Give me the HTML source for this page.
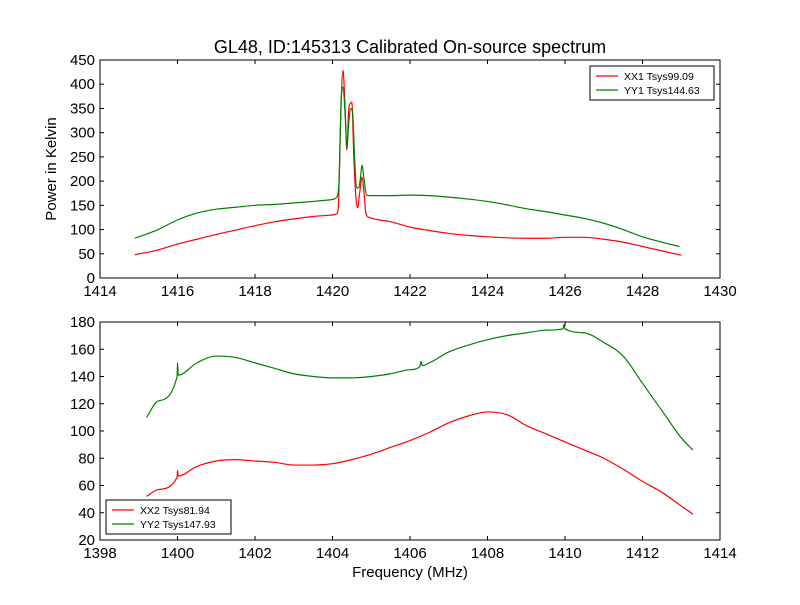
<!DOCTYPE html>
<html><head><meta charset="utf-8"><style>
body{margin:0;background:#fff}
svg{font-family:"Liberation Sans","DejaVu Sans",sans-serif}
</style></head><body>
<svg id="c" width="800" height="600"></svg>
<script>
const ns="http://www.w3.org/2000/svg";
// top panel data
const topXTicks=[1414,1416,1418,1420,1422,1424,1426,1428,1430];
const topYTicks=[0,50,100,150,200,250,300,350,400,450];
const xx1Freq=[1414.9,1415.5,1416,1416.5,1417,1417.5,1418,1418.5,1419,1419.5,1420,1420.1,1420.15,1420.2,1420.27,1420.33,1420.37,1420.42,1420.46,1420.5,1420.55,1420.6,1420.65,1420.7,1420.76,1420.82,1420.86,1420.95,1421.2,1421.5,1422,1422.5,1423,1423.5,1424,1424.5,1425,1425.5,1426,1426.5,1427,1427.5,1428,1428.5,1429];
const xx1Vals=[48,58,70,80,90,99,108,116,122,127,130,132,145,300,429,340,264,350,360,363,250,170,145,175,208,170,134,125,120,116,105,98,92,88,85,83,82,82,84,84,80,74,65,56,47];
const yy1Freq=[1414.9,1415.5,1416,1416.5,1417,1417.5,1418,1418.5,1419,1419.5,1420,1420.1,1420.17,1420.22,1420.27,1420.33,1420.37,1420.42,1420.47,1420.52,1420.57,1420.62,1420.67,1420.72,1420.76,1420.82,1420.88,1421,1421.5,1422,1422.5,1423,1423.5,1424,1424.5,1425,1425.5,1426,1426.5,1427,1427.5,1428,1428.5,1428.95];
const yy1Vals=[82,100,120,134,142,146,150,152,155,158,162,166,200,360,394,330,268,320,350,340,250,186,186,205,233,200,171,170,170,171,170,167,163,158,151,143,137,130,123,113,100,85,74,65];
// bottom panel data
const botXTicks=[1398,1400,1402,1404,1406,1408,1410,1412,1414];
const botYTicks=[20,40,60,80,100,120,140,160,180];
const xx2Freq=[1399.2,1399.5,1399.99,1400,1400.02,1400.5,1401,1401.5,1402,1402.5,1403,1403.5,1404,1404.5,1405,1405.5,1406,1406.5,1407,1407.5,1408,1408.5,1409,1409.5,1410,1410.5,1411,1411.5,1412,1412.5,1413,1413.3];
const xx2Vals=[52,57,66,71,67,74,78,79,78,77,75,75,76,79,83,88,93,99,106,111,114,112,104,98,92,86,80,72,63,55,45,39];
const yy2Freq=[1399.2,1399.5,1399.99,1400,1400.02,1400.5,1401,1401.5,1402,1402.5,1403,1403.5,1404,1404.5,1405,1405.5,1406,1406.25,1406.28,1406.32,1406.5,1407,1407.5,1408,1408.5,1409,1409.5,1409.95,1409.97,1410,1410.5,1411,1411.5,1412,1412.5,1413,1413.3];
const yy2Vals=[110,122,140,150,141,150,155,154,150,146,142,140,139,139,140,142,145,147,151,148,150,158,163,167,170,172,174,175,178,175,172,165,155,135,115,95,86];

const svg=document.getElementById('c');
function mk(tag,attrs,parent){const e=document.createElementNS(ns,tag);for(const k in attrs)e.setAttribute(k,attrs[k]);(parent||svg).appendChild(e);return e;}

// monotone cubic path through pixel points
function monoPath(px,py){
  const n=px.length;const m=new Array(n).fill(0);const d=[];
  for(let i=0;i<n-1;i++)d.push((py[i+1]-py[i])/(px[i+1]-px[i]));
  m[0]=d[0];m[n-1]=d[n-2];
  for(let i=1;i<n-1;i++){m[i]=(d[i-1]*d[i]<=0)?0:(d[i-1]+d[i])/2;}
  for(let i=0;i<n-1;i++){if(d[i]===0){m[i]=0;m[i+1]=0;continue;}
    const a=m[i]/d[i],b=m[i+1]/d[i],s=a*a+b*b;if(s>9){const t=3/Math.sqrt(s);m[i]=t*a*d[i];m[i+1]=t*b*d[i];}}
  let p='M'+px[0].toFixed(2)+','+py[0].toFixed(2);
  for(let i=0;i<n-1;i++){const h=(px[i+1]-px[i])/3;
    p+='C'+(px[i]+h).toFixed(2)+','+(py[i]+m[i]*h).toFixed(2)+' '+(px[i+1]-h).toFixed(2)+','+(py[i+1]-m[i+1]*h).toFixed(2)+' '+px[i+1].toFixed(2)+','+py[i+1].toFixed(2);}
  return p;
}

function panel(name,L,T,R,B,x0,x1,y0,y1,xt,yt,series,legend,ylabel,xlabel){
  const g=mk('g',{});
  
  
  const sx=v=>L+(v-x0)/(x1-x0)*(R-L);
  const sy=v=>B-(v-y0)/(y1-y0)*(B-T);
  for(const s of series){
    const d=monoPath(s.f.map(sx),s.v.map(sy));
    const p=mk('path',{d:d,fill:'none',stroke:s.c,'stroke-width':1.2,'stroke-linejoin':'round'},g);
    
    
  }
  const fr=mk('rect',{x:L,y:T,width:R-L,height:B-T,fill:'none',stroke:'#000','stroke-width':1},g);
  
  
  for(const t of xt){const x=sx(t);
    mk('line',{x1:x,y1:B,x2:x,y2:B-4,stroke:'#000'},g);mk('line',{x1:x,y1:T,x2:x,y2:T+4,stroke:'#000'},g);
    const tx=mk('text',{x:x,y:B+18,'font-size':15,'text-anchor':'middle'},g);tx.textContent=t;
    
    }
  for(const t of yt){const y=sy(t);
    mk('line',{x1:L,y1:y,x2:L+4,y2:y,stroke:'#000'},g);mk('line',{x1:R,y1:y,x2:R-4,y2:y,stroke:'#000'},g);
    const tx=mk('text',{x:L-5,y:y+5,'font-size':15,'text-anchor':'end'},g);tx.textContent=t;
    
    }
  const lg=mk('g',{},g);
  
  
  mk('rect',{x:legend.x,y:legend.y,width:legend.w,height:34,fill:'#fff',stroke:'#000'},lg);
  series.forEach((s,i)=>{const y=legend.y+10+i*14;
    mk('line',{x1:legend.x+6,y1:y,x2:legend.x+28,y2:y,stroke:s.c,'stroke-width':1.2},lg);
    const tx=mk('text',{x:legend.x+34,y:y+4,'font-size':10.5},lg);tx.textContent=s.label;
    
    });
  if(ylabel){const tx=mk('text',{x:0,y:0,'font-size':15,'text-anchor':'middle',transform:`translate(56,${(T+B)/2}) rotate(-90)`},g);tx.textContent=ylabel;
    
    }
  if(xlabel){const tx=mk('text',{x:(L+R)/2,y:B+37,'font-size':15,'text-anchor':'middle'},g);tx.textContent=xlabel;
    
    }
}
const title=mk('text',{x:410,y:53,'font-size':18,'text-anchor':'middle'});
title.textContent='GL48, ID:145313 Calibrated On-source spectrum';


panel('top-panel',100,60,720,278,1414,1430,0,450,topXTicks,topYTicks,
 [{f:xx1Freq,v:xx1Vals,c:'#ff0000',label:'XX1 Tsys99.09',name:'series-xx1'},
  {f:yy1Freq,v:yy1Vals,c:'#008000',label:'YY1 Tsys144.63',name:'series-yy1'}],
 {x:590,y:66,w:124},'Power in Kelvin',null);
panel('bottom-panel',100,322,720,540,1398,1414,20,180,botXTicks,botYTicks,
 [{f:xx2Freq,v:xx2Vals,c:'#ff0000',label:'XX2 Tsys81.94',name:'series-xx2'},
  {f:yy2Freq,v:yy2Vals,c:'#008000',label:'YY2 Tsys147.93',name:'series-yy2'}],
 {x:106,y:500,w:125},null,'Frequency (MHz)');
</script>
</body></html>
